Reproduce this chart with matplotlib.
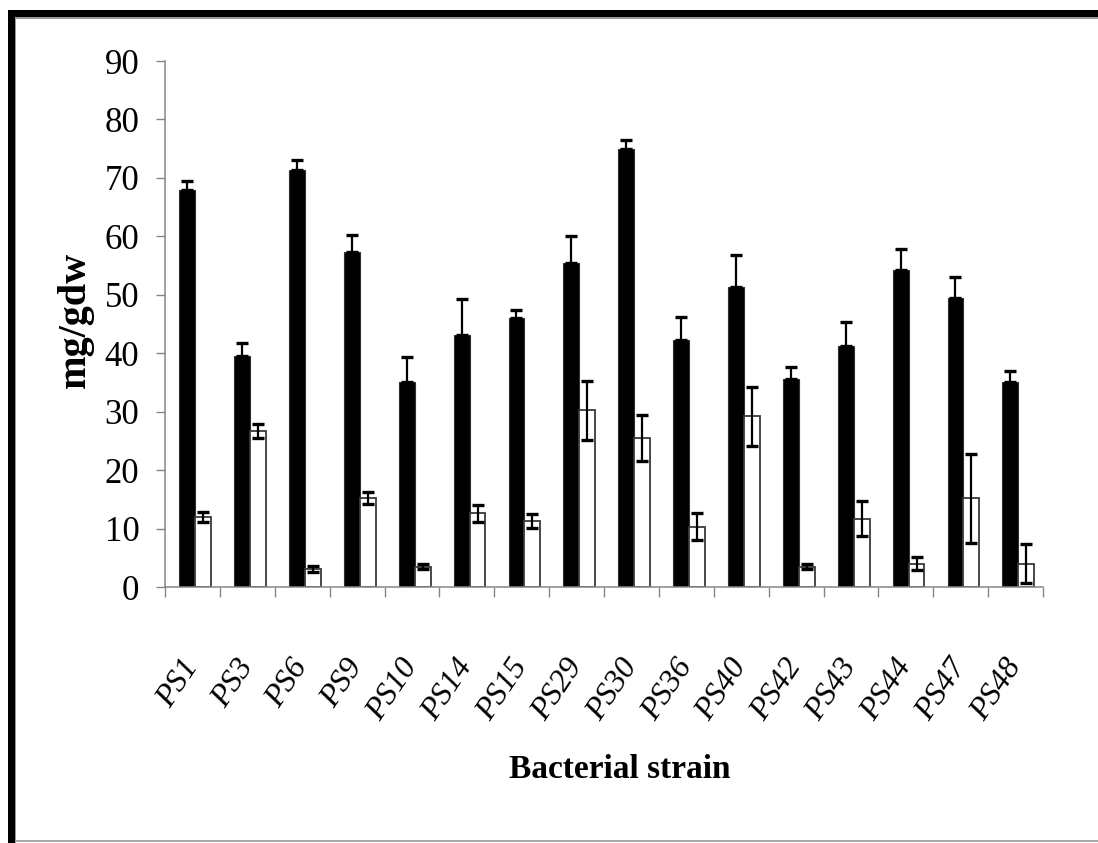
"""Bar chart of two measurements (mg/gdw) per bacterial strain."""

import numpy as np
import matplotlib.pyplot as plt
from matplotlib.patches import Rectangle

STRAINS = ["PS1", "PS3", "PS6", "PS9", "PS10", "PS14", "PS15", "PS29",
           "PS30", "PS36", "PS40", "PS42", "PS43", "PS44", "PS47", "PS48"]

BLACK_VALUES = [68.0, 39.5, 71.3, 57.3, 35.0, 43.2, 46.0, 55.5,
                75.0, 42.2, 51.3, 35.6, 41.3, 54.2, 49.5, 35.0]
BLACK_ERR = [1.5, 2.3, 1.7, 3.0, 4.3, 6.0, 1.4, 4.5,
             1.4, 4.0, 5.5, 2.0, 4.0, 3.6, 3.5, 2.0]

WHITE_VALUES = [12.0, 26.7, 3.1, 15.2, 3.5, 12.6, 11.3, 30.2,
                25.5, 10.3, 29.2, 3.5, 11.7, 4.0, 15.2, 4.0]
WHITE_ERR = [0.8, 1.2, 0.5, 1.0, 0.4, 1.5, 1.2, 5.0,
             4.0, 2.3, 5.0, 0.4, 3.0, 1.1, 7.6, 3.4]

Y_TICKS = [0, 10, 20, 30, 40, 50, 60, 70, 80, 90]

SERIF = ["Liberation Serif", "DejaVu Serif"]
AXIS_GREY = "#868686"

plt.rcParams.update({
    "font.family": SERIF,
    "figure.facecolor": "white",
    "axes.facecolor": "white",
})

W, H = 1098, 843
fig = plt.figure(figsize=(W / 100, H / 100), dpi=100)
ax = fig.add_axes([165 / W, 1 - 587 / H, (1043 - 165) / W, (587 - 61) / H])

x = np.arange(len(STRAINS))
bw = 0.29
x_black = x - 0.095
x_white = x + 0.195

ax.bar(x_black, BLACK_VALUES, width=bw, color="black",
       edgecolor="#303030", linewidth=0.8, zorder=2)
ax.errorbar(x_black, BLACK_VALUES,
            yerr=[np.zeros(len(BLACK_ERR)), BLACK_ERR],
            fmt="none", ecolor="black", elinewidth=1.6,
            capsize=4.3, capthick=2.4, zorder=3)

ax.bar(x_white, WHITE_VALUES, width=bw, color="white",
       edgecolor="#3a3a3a", linewidth=1.3, zorder=2)
ax.errorbar(x_white, WHITE_VALUES, yerr=WHITE_ERR,
            fmt="none", ecolor="black", elinewidth=1.6,
            capsize=4.3, capthick=2.4, zorder=3)

ax.set_xlim(-0.5, len(STRAINS) - 0.5)
ax.set_ylim(0, 90)

for side in ("top", "right"):
    ax.spines[side].set_visible(False)
for side in ("left", "bottom"):
    ax.spines[side].set_color(AXIS_GREY)
    ax.spines[side].set_linewidth(1.1)

ax.set_yticks(Y_TICKS)
ax.set_yticklabels([str(v) for v in Y_TICKS])
ax.tick_params(axis="y", direction="out", length=6.5, width=1.0,
               color=AXIS_GREY, labelsize=25, pad=12)

# strain labels on the centres, tick marks on the category borders
ax.set_xticks(x)
ax.set_xticks(np.arange(-0.5, len(STRAINS)), minor=True)
ax.tick_params(axis="x", which="major", length=0, pad=54)
ax.tick_params(axis="x", which="minor", direction="out", length=7,
               width=1.0, color=AXIS_GREY)
ax.set_xticklabels(STRAINS, rotation=56, ha="right", va="center",
                   rotation_mode="anchor", fontsize=23, style="italic")

fig.text(75 / W, 1 - 320 / H, "mg/gdw", rotation=90, ha="center",
         va="center", fontsize=29, fontweight="bold")
fig.text(620 / W, 1 - 770 / H, "Bacterial strain", ha="center",
         va="center", fontsize=24, fontweight="bold")

# picture frame: thick black top and left edges, thin grey lines
def px_rect(x0, y0, x1, y1, color):
    fig.patches.append(Rectangle((x0 / W, 1 - y1 / H), (x1 - x0) / W,
                                 (y1 - y0) / H, transform=fig.transFigure,
                                 facecolor=color, edgecolor="none"))

px_rect(8, 10, W, 17, "black")
px_rect(8, 10, 14.5, H, "black")
px_rect(14.5, 17, W, 18.5, "#9a9a9a")
px_rect(14.5, 17, 16, H, "#9a9a9a")
px_rect(14.5, 840, W, 842, "#a8a8a8")

fig.savefig("out.png", dpi=100)
